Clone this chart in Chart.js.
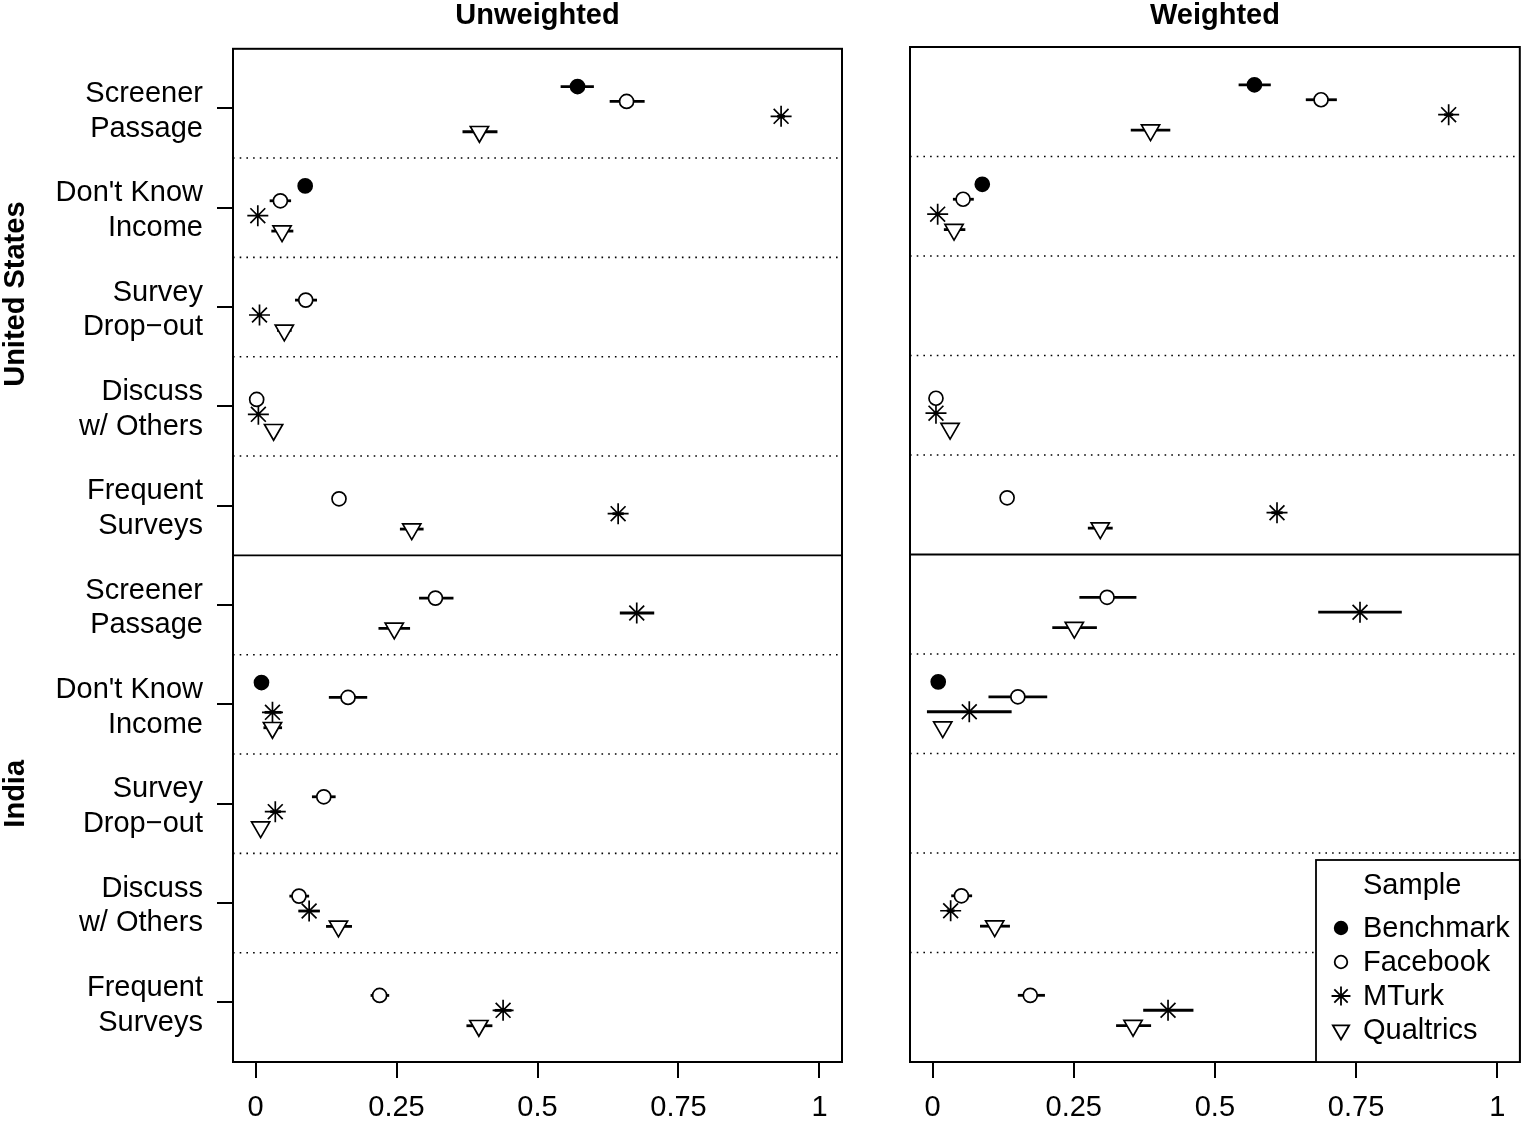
<!DOCTYPE html>
<html>
<head>
<meta charset="utf-8">
<title>Unweighted / Weighted</title>
<script src="https://cdn.jsdelivr.net/npm/chart.js@4.4.1/dist/chart.umd.min.js"></script>
<style>
  html, body { margin: 0; padding: 0; background: #fff; overflow: hidden; }
  #wrap { position: relative; width: 1521px; height: 1123px; overflow: hidden; }
  canvas { position: absolute; top: 0; }
  #left { left: 0; }
  #right { left: 860px; }
</style>
</head>
<body>
<div id="wrap">
  <canvas id="left" width="860" height="1123"></canvas>
  <canvas id="right" width="672" height="1123"></canvas>
</div>
<script>
// --- данные ---

const rowLabels = [
  ['Screener', 'Passage'], ["Don't Know", 'Income'], ['Survey', 'Drop\u2212out'], ['Discuss', 'w/ Others'], ['Frequent', 'Surveys'],
  ['Screener', 'Passage'], ["Don't Know", 'Income'], ['Survey', 'Drop\u2212out'], ['Discuss', 'w/ Others'], ['Frequent', 'Surveys']
];
const groupLabels = ['United States', 'India'];
const panelTitles = ['Unweighted', 'Weighted'];
const xTicks = [0, 0.25, 0.5, 0.75, 1];
const seriesNames = ['Benchmark', 'Facebook', 'MTurk', 'Qualtrics'];

// [оценка, нижняя граница, верхняя граница] по строкам; null — нет значения
const unwBenchmark = [
  [0.571, 0.541, 0.600], [0.088, 0.085, 0.091], null, null, null,
  null, [0.0105, 0.008, 0.013], null, null, null
];
const unwFacebook = [
  [0.658, 0.628, 0.690], [0.044, 0.025, 0.063], [0.089, 0.070, 0.109], [0.002, 0.000, 0.005], [0.148, 0.141, 0.155],
  [0.319, 0.290, 0.351], [0.164, 0.130, 0.198], [0.121, 0.100, 0.142], [0.077, 0.060, 0.095], [0.220, 0.204, 0.237]
];
const unwMTurk = [
  [0.932, 0.925, 0.939], [0.004, 0.001, 0.008], [0.007, 0.003, 0.011], [0.005, 0.002, 0.008], [0.643, 0.633, 0.653],
  [0.676, 0.646, 0.707], [0.030, 0.016, 0.046], [0.035, 0.026, 0.045], [0.095, 0.076, 0.114], [0.439, 0.424, 0.454]
];
const unwQualtrics = [
  [0.397, 0.367, 0.429], [0.047, 0.028, 0.067], [0.051, 0.038, 0.064], [0.032, 0.028, 0.036], [0.277, 0.256, 0.298],
  [0.246, 0.218, 0.274], [0.030, 0.014, 0.047], [0.009, 0.005, 0.013], [0.147, 0.125, 0.171], [0.396, 0.374, 0.420]
];

const wBenchmark = [
  [0.570, 0.542, 0.599], [0.088, 0.085, 0.091], null, null, null,
  null, [0.010, 0.008, 0.012], null, null, null
];
const wFacebook = [
  [0.688, 0.661, 0.716], [0.054, 0.036, 0.073], null, [0.006, 0.003, 0.009], [0.132, 0.125, 0.139],
  [0.309, 0.260, 0.361], [0.151, 0.099, 0.203], null, [0.051, 0.033, 0.070], [0.173, 0.151, 0.199]
];
const wMTurk = [
  [0.914, 0.906, 0.922], [0.009, 0.005, 0.013], null, [0.006, 0.002, 0.010], [0.610, 0.600, 0.620],
  [0.757, 0.683, 0.831], [0.065, -0.010, 0.140], null, [0.032, 0.025, 0.039], [0.417, 0.373, 0.462]
];
const wQualtrics = [
  [0.386, 0.351, 0.421], [0.038, 0.020, 0.058], null, [0.031, 0.027, 0.035], [0.297, 0.275, 0.319],
  [0.251, 0.212, 0.291], [0.018, 0.013, 0.023], null, [0.110, 0.084, 0.137], [0.355, 0.325, 0.387]
];

// --- оформление ---

const FONT = '"Liberation Sans", Arial, Helvetica, sans-serif';
const FONT_SIZE = 29;
Chart.defaults.font.family = FONT;
Chart.defaults.font.size = FONT_SIZE;
Chart.defaults.color = '#000';

// сдвиг серий внутри строки (в единицах строки)
const yOffsets = [-0.22, -0.07, 0.08, 0.235];

const markers = [
  { pointStyle: 'circle', radius: 7, fill: '#000', rotation: 0 },
  { pointStyle: 'circle', radius: 7, fill: '#fff', rotation: 0 },
  { pointStyle: 'star', radius: 10.5, fill: '#000', rotation: 0 },
  { pointStyle: 'triangle', radius: 10.5, fill: '#fff', rotation: 180 }
];

function buildDatasets(seriesList) {
  return seriesList.map((vals, s) => {
    const m = markers[s];
    const data = [];
    vals.forEach((v, i) => {
      if (!v) return;
      data.push({ x: v[0], y: i + 1 + yOffsets[s], lo: v[1], hi: v[2] });
    });
    return {
      label: seriesNames[s],
      data,
      showLine: false,
      pointStyle: m.pointStyle,
      pointRadius: m.radius,
      pointHoverRadius: m.radius,
      rotation: m.rotation,
      pointBackgroundColor: m.fill,
      pointBorderColor: '#000',
      pointBorderWidth: 1.7
    };
  });
}

// рамка панели, разделители строк, планки ошибок, заголовок
const panelPlugin = {
  id: 'panelDecor',
  beforeDatasetsDraw(chart) {
    const { ctx, chartArea: a, scales: { x, y } } = chart;
    ctx.save();
    ctx.strokeStyle = '#000';
    for (let r = 1; r < rowLabels.length; r++) {
      const py = y.getPixelForValue(r + 0.5);
      if (r === 5) { ctx.setLineDash([]); ctx.lineWidth = 1.8; }
      else { ctx.setLineDash([1.6, 5.1]); ctx.lineWidth = 1.6; }
      ctx.beginPath();
      ctx.moveTo(a.left, py);
      ctx.lineTo(a.right, py);
      ctx.stroke();
    }
    ctx.setLineDash([]);
    ctx.lineWidth = 2.8;
    chart.data.datasets.forEach((ds, di) => {
      const meta = chart.getDatasetMeta(di);
      ds.data.forEach((p, i) => {
        const py = meta.data[i].y;
        ctx.beginPath();
        ctx.moveTo(x.getPixelForValue(p.lo), py);
        ctx.lineTo(x.getPixelForValue(p.hi), py);
        ctx.stroke();
      });
    });
    ctx.restore();
  },
  afterDraw(chart, args, opts) {
    const { ctx, chartArea: a } = chart;
    ctx.save();
    ctx.strokeStyle = '#000';
    ctx.lineWidth = 2;
    ctx.strokeRect(a.left, a.top, a.right - a.left, a.bottom - a.top);
    ctx.fillStyle = '#000';
    ctx.font = 'bold ' + FONT_SIZE + 'px ' + FONT;
    ctx.textAlign = 'center';
    ctx.textBaseline = 'middle';
    ctx.fillText(opts.title, (a.left + a.right) / 2, 16);
    ctx.restore();
  }
};

// подписи групп слева (повернутые)
const groupPlugin = {
  id: 'groupLabels',
  afterDraw(chart) {
    const { ctx, scales: { y } } = chart;
    const centers = [2.87, 7.9];
    groupLabels.forEach((g, k) => {
      ctx.save();
      ctx.translate(16, y.getPixelForValue(centers[k]));
      ctx.rotate(-Math.PI / 2);
      ctx.fillStyle = '#000';
      ctx.font = 'bold ' + FONT_SIZE + 'px ' + FONT;
      ctx.textAlign = 'center';
      ctx.textBaseline = 'middle';
      ctx.fillText(g, 0, 0);
      ctx.restore();
    });
  }
};

// легенда «Sample» внутри правой панели
const legendPlugin = {
  id: 'sampleLegend',
  afterDraw(chart) {
    const { ctx, chartArea: a } = chart;
    const left = a.left + 406;
    const top = a.bottom - 202;
    ctx.save();
    ctx.fillStyle = '#fff';
    ctx.fillRect(left, top, a.right - left, a.bottom - top);
    ctx.strokeStyle = '#000';
    ctx.lineWidth = 1.8;
    ctx.strokeRect(left, top, a.right - left, a.bottom - top);
    ctx.fillStyle = '#000';
    ctx.font = FONT_SIZE + 'px ' + FONT;
    ctx.textAlign = 'left';
    ctx.textBaseline = 'middle';
    ctx.fillText('Sample', left + 47, top + 26);
    seriesNames.forEach((name, s) => {
      const m = markers[s];
      const py = top + 68 + s * 34;
      ctx.fillStyle = m.fill;
      ctx.strokeStyle = '#000';
      Chart.helpers.drawPoint(ctx, {
        pointStyle: m.pointStyle, radius: m.radius * 0.9, rotation: m.rotation, borderWidth: 1.6
      }, left + 25, py);
      ctx.fillStyle = '#000';
      ctx.fillText(name, left + 47, py + 1);
    });
    ctx.restore();
  }
};

function buildScales(showY) {
  return {
    x: {
      type: 'linear',
      min: -0.04,
      max: 1.04,
      afterBuildTicks: s => { s.ticks = xTicks.map(v => ({ value: v })); },
      afterFit: s => { s.height = 61; },
      ticks: { callback: v => String(v), padding: 13, maxRotation: 0, autoSkip: false },
      grid: { drawOnChartArea: false, drawTicks: true, tickLength: 16, color: '#000', lineWidth: 2 },
      border: { display: false }
    },
    y: {
      type: 'linear',
      reverse: true,
      min: 0.4,
      max: 10.6,
      display: showY,
      afterBuildTicks: s => { s.ticks = rowLabels.map((_, i) => ({ value: i + 1 })); },
      afterFit: s => { s.width = showY ? 233 : 0; },
      ticks: {
        callback: v => rowLabels[Math.round(v) - 1],
        padding: 14,
        labelOffset: 3,
        autoSkip: false,
        font: { size: FONT_SIZE, lineHeight: 1.2 }
      },
      grid: { drawOnChartArea: false, drawTicks: true, tickLength: 16, color: '#000', lineWidth: 2 },
      border: { display: false }
    }
  };
}

function makePanel(canvasId, title, seriesList, showY, padding, extraPlugins) {
  return new Chart(document.getElementById(canvasId), {
    type: 'scatter',
    data: { datasets: buildDatasets(seriesList) },
    options: {
      responsive: false,
      animation: false,
      layout: { padding },
      scales: buildScales(showY),
      plugins: {
        legend: { display: false },
        tooltip: { enabled: false },
        panelDecor: { title }
      }
    },
    plugins: [panelPlugin].concat(extraPlugins)
  });
}

makePanel('left', panelTitles[0], [unwBenchmark, unwFacebook, unwMTurk, unwQualtrics], true,
  { top: 47, left: 0, right: 18, bottom: 0 }, [groupPlugin]);
makePanel('right', panelTitles[1], [wBenchmark, wFacebook, wMTurk, wQualtrics], false,
  { top: 47, left: 50, right: 2, bottom: 0 }, [legendPlugin]);
</script>
</body>
</html>
